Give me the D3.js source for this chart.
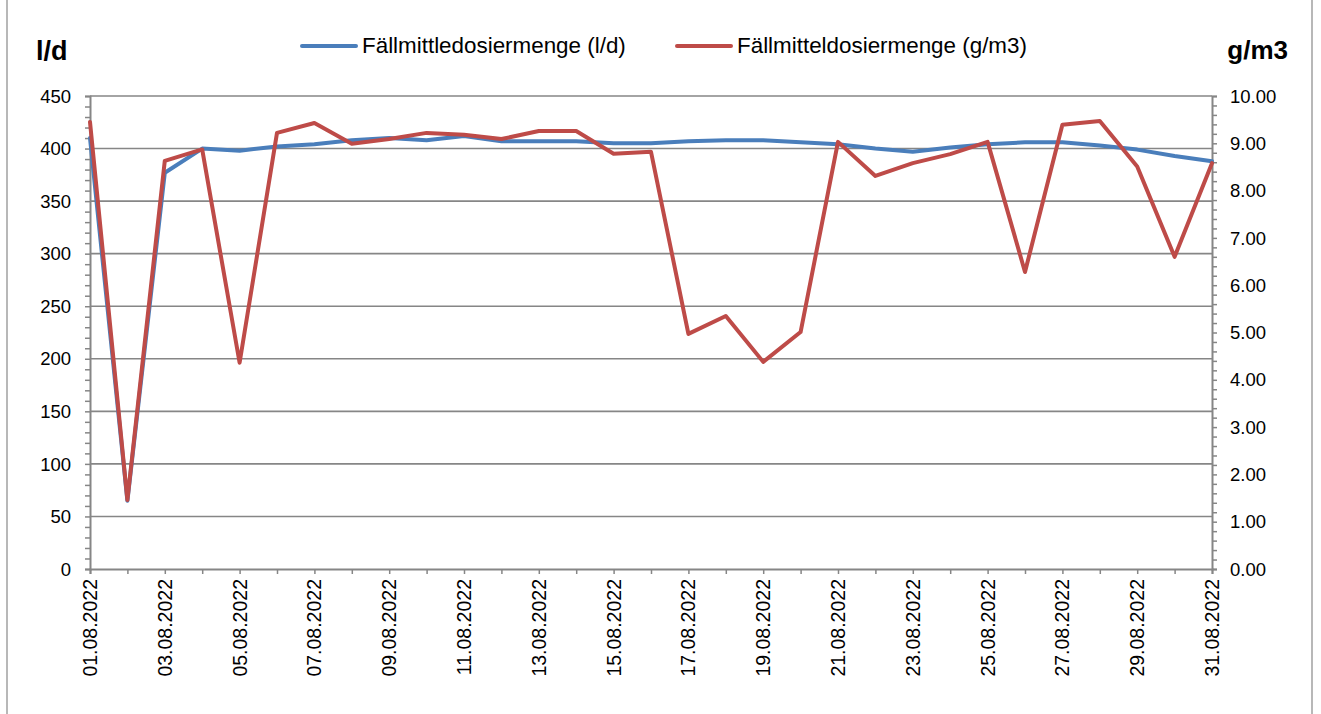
<!DOCTYPE html>
<html>
<head>
<meta charset="utf-8">
<script src="https://cdn.jsdelivr.net/npm/d3@7"></script>
<style>
  body { margin: 0; background: #fff; }
  svg { display: block; font-family: "Liberation Sans", Arial, sans-serif; }
</style>
</head>
<body>
<div id="chart"></div>
<script>
'use strict';

const days = d3.range(1, 32).map(function(d) { return (d < 10 ? '0' + d : '' + d) + '.08.2022'; });

const litresPerDay = [410, 65, 377, 400, 398, 402, 404, 408, 410, 408, 412, 407, 407, 407, 405, 405,
                      407, 408, 408, 406, 404, 400, 397, 401, 404, 406, 406, 403, 399, 393, 388];

const gramsPerM3 = [9.45, 1.46, 8.63, 8.87, 4.36, 9.22, 9.43, 8.99, 9.09, 9.22, 9.18, 9.09, 9.26, 9.26, 8.78, 8.82,
                    4.97, 5.35, 4.38, 5.01, 9.03, 8.31, 8.58, 8.77, 9.03, 6.28, 9.39, 9.47, 8.51, 6.60, 8.58];

const leftTicks = d3.range(0, 451, 50);
const rightTicks = d3.range(0, 10.01, 1);

const seriesNames = ['Fällmittledosiermenge (l/d)', 'Fällmitteldosiermenge (g/m3)'];
const seriesColors = ['#4a7ebb', '#be4b48'];

const W = 1321, H = 714;
const plot = { left: 90, right: 1212, top: 96, bottom: 569 };
const gridColor = '#868686';

const svg = d3.select('#chart').append('svg')
    .attr('width', W).attr('height', H);

// outer frame (only the sides are visible in the picture)
svg.append('line').attr('x1', 7).attr('x2', 7).attr('y1', 0).attr('y2', H)
    .attr('stroke', '#a0a0a0').attr('stroke-width', 1.5);
svg.append('line').attr('x1', 1312).attr('x2', 1312).attr('y1', 0).attr('y2', H)
    .attr('stroke', '#a0a0a0').attr('stroke-width', 1.5);

const x = d3.scalePoint().domain(days).range([plot.left, plot.right]);
const yLeft = d3.scaleLinear().domain([0, 450]).range([plot.bottom, plot.top]);
const yRight = d3.scaleLinear().domain([0, 10]).range([plot.bottom, plot.top]);

// horizontal grid
svg.append('g').selectAll('line').data(leftTicks.slice(1)).enter().append('line')
    .attr('x1', plot.left).attr('x2', plot.right)
    .attr('y1', function(d) { return yLeft(d); }).attr('y2', function(d) { return yLeft(d); })
    .attr('stroke', gridColor).attr('stroke-width', 1.6);

// left axis: minor ticks every 10, labels every 50
const leftAxis = svg.append('g').attr('transform', 'translate(' + plot.left + ',0)');
leftAxis.call(d3.axisLeft(yLeft).tickValues(d3.range(0, 451, 10)).tickSize(5).tickFormat(''));
leftAxis.selectAll('line').attr('stroke', gridColor).attr('stroke-width', 1.5);
leftAxis.select('.domain').attr('stroke', gridColor).attr('stroke-width', 2);
leftAxis.selectAll('.lbl').data(leftTicks).enter().append('text')
    .attr('class', 'lbl')
    .attr('x', -19).attr('y', function(d) { return yLeft(d); })
    .attr('dy', '0.36em').attr('text-anchor', 'end')
    .attr('font-size', '18.5px').attr('fill', '#000')
    .text(function(d) { return d; });

// right axis: minor ticks every 0.2, labels every 1
const rightAxis = svg.append('g').attr('transform', 'translate(' + plot.right + ',0)');
rightAxis.call(d3.axisRight(yRight).tickValues(d3.range(0, 50.5, 1).map(function(d) { return d / 5; })).tickSize(5).tickFormat(''));
rightAxis.selectAll('line').attr('stroke', gridColor).attr('stroke-width', 1.5);
rightAxis.select('.domain').attr('stroke', gridColor).attr('stroke-width', 2);
rightAxis.selectAll('.lbl').data(rightTicks).enter().append('text')
    .attr('class', 'lbl')
    .attr('x', 18).attr('y', function(d) { return yRight(d); })
    .attr('dy', '0.36em').attr('text-anchor', 'start')
    .attr('font-size', '18.5px').attr('fill', '#000')
    .text(function(d) { return d3.format('.2f')(d); });

// bottom axis: tick every day, label every other day
const bottomAxis = svg.append('g').attr('transform', 'translate(0,' + plot.bottom + ')');
bottomAxis.call(d3.axisBottom(x).tickSize(5).tickFormat(''));
bottomAxis.selectAll('line').attr('stroke', gridColor).attr('stroke-width', 1.5);
bottomAxis.select('.domain').attr('stroke', gridColor).attr('stroke-width', 2);
bottomAxis.selectAll('.lbl').data(days.filter(function(d, i) { return i % 2 === 0; })).enter().append('text')
    .attr('class', 'lbl')
    .attr('transform', function(d) { return 'translate(' + x(d) + ',10) rotate(-90)'; })
    .attr('dy', '0.36em').attr('text-anchor', 'end')
    .attr('font-size', '19.5px').attr('fill', '#000')
    .text(function(d) { return d; });

// series
const blueLine = d3.line()
    .x(function(d, i) { return x(days[i]); })
    .y(function(d) { return yLeft(d); });

const redLine = d3.line()
    .x(function(d, i) { return x(days[i]); })
    .y(function(d) { return yRight(d); });

svg.append('path').datum(litresPerDay)
    .attr('d', blueLine)
    .attr('fill', 'none').attr('stroke', seriesColors[0])
    .attr('stroke-width', 4).attr('stroke-linejoin', 'round').attr('stroke-linecap', 'round');

svg.append('path').datum(gramsPerM3)
    .attr('d', redLine)
    .attr('fill', 'none').attr('stroke', seriesColors[1])
    .attr('stroke-width', 4).attr('stroke-linejoin', 'round').attr('stroke-linecap', 'round');

// axis titles
svg.append('text').attr('x', 36).attr('y', 60)
    .attr('font-size', '27px').attr('font-weight', 'bold').text('l/d');
svg.append('text').attr('x', 1288).attr('y', 59).attr('text-anchor', 'end')
    .attr('font-size', '26px').attr('font-weight', 'bold').text('g/m3');

// legend
const legendItems = [
    { name: seriesNames[0], color: seriesColors[0], x: 302 },
    { name: seriesNames[1], color: seriesColors[1], x: 677 }
];
const legend = svg.append('g').selectAll('g').data(legendItems).enter().append('g')
    .attr('transform', function(d) { return 'translate(' + d.x + ',46)'; });
legend.append('line').attr('x1', 0).attr('x2', 54).attr('y1', 0).attr('y2', 0)
    .attr('stroke', function(d) { return d.color; }).attr('stroke-width', 4).attr('stroke-linecap', 'round');
legend.append('text').attr('x', 60).attr('y', 7)
    .attr('font-size', '22.4px').text(function(d) { return d.name; });
</script>
</body>
</html>
